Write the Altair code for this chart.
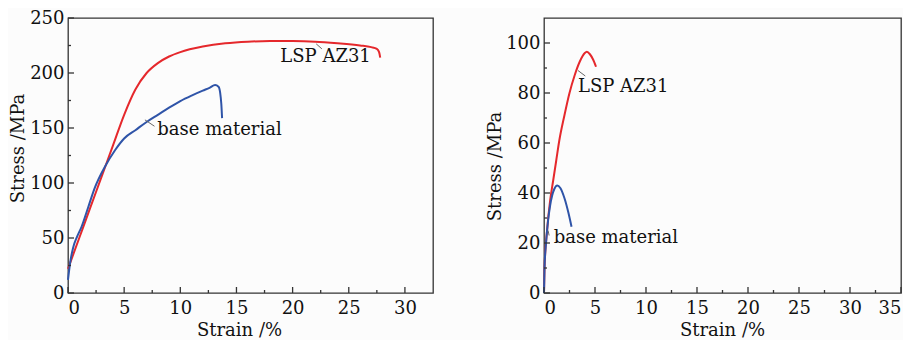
import altair as alt
import pandas as pd

FONT = "DejaVu Serif"
RED = "#e5282c"
BLUE = "#2f54a8"

# ---- left panel data ----
l_red_x = [0, 1, 2, 3, 4, 5, 6, 7, 8, 9, 10, 12, 14, 16, 18, 20, 22, 24, 26, 27, 27.5, 27.7, 27.8]
l_red_y = [22, 50, 78, 106, 134, 162, 185, 200, 209, 215, 219, 224, 227, 228.5, 229, 229, 228.5, 227, 225, 223.5, 222, 219, 214]
l_blue_x = [0, 0.2, 0.45, 0.8, 1.2, 1.8, 2.4, 3.3, 4.2, 5.0, 6.0, 7.0, 8.0, 9.0, 10.0, 11.0, 12.0, 12.6, 13.1, 13.4, 13.55, 13.65, 13.72]
l_blue_y = [12, 28, 41, 51, 60, 78, 96, 115, 130, 140.5, 148, 155.5, 162, 168.5, 174.5, 179.5, 184, 186.5, 189, 187.5, 182, 172, 159]

# ---- right panel data ----
r_red_x = [0, 0.05, 0.3, 0.6, 0.9, 1.2, 1.5, 2.0, 2.5, 3.0, 3.5, 4.0, 4.2, 4.5, 4.8, 5.1]
r_red_y = [0, 10, 25, 37, 45, 53, 61, 71, 80, 87, 92.5, 96, 96.5, 95.5, 93.5, 90.5]
r_blue_x = [0, 0.05, 0.2, 0.4, 0.6, 0.8, 1.0, 1.3, 1.6, 2.0, 2.4, 2.7]
r_blue_y = [0, 10, 20, 29, 35, 39, 41.5, 43, 42, 38, 32, 26.5]

# annotations
l_labels = ["LSP AZ31", "base material"]
l_lab_x = [18.9, 7.95]
l_lab_y = [214.5, 148.4]
l_lead_x = [22.1, 6.85]
l_lead_y = [226.5, 157.4]
l_lead_x2 = [22.6, 7.7]
l_lead_y2 = [222.0, 151.6]

r_labels = ["LSP AZ31", "base material"]
r_lab_x = [3.33, 0.95]
r_lab_y = [82.5, 22.1]
r_lead_x = [3.33, 0.4]
r_lead_y = [89.0, 25.0]
r_lead_x2 = [4.05, 0.5]
r_lead_y2 = [86.8, 23.0]

# ticks
l_xmaj = [0, 5, 10, 15, 20, 25, 30]
l_xmin = [2.5, 7.5, 12.5, 17.5, 22.5, 27.5]
l_ymaj = [0, 50, 100, 150, 200, 250]
l_ymin = [25, 75, 125, 175, 225]
r_xmaj = [0, 5, 10, 15, 20, 25, 30, 35]
r_xmin = [2.5, 7.5, 12.5, 17.5, 22.5, 27.5, 32.5]
r_ymaj = [0, 20, 40, 60, 80, 100]
r_ymin = [10, 30, 50, 70, 90]

FS = 18


def panel(red_x, red_y, blue_x, blue_y, labels, lab_x, lab_y, lx, ly, lx2, ly2,
          xmaj, xmin, ymaj, ymin, xdom, ydom, w, h, titleX, titleY, ytitlepad):
    xs = alt.Scale(domain=xdom, nice=False, zero=False)
    ys = alt.Scale(domain=ydom, nice=False, zero=False)
    df = pd.concat([
        pd.DataFrame({"x": red_x, "y": red_y, "s": "red", "o": range(len(red_x))}),
        pd.DataFrame({"x": blue_x, "y": blue_y, "s": "blue", "o": range(len(blue_x))}),
    ])
    xaxis = alt.Axis(values=xmaj, ticks=False, grid=False, title="Strain /%",
                     labelFont=FONT, labelFontSize=FS, labelColor="#111",
                     titleFont=FONT, titleFontSize=FS, titleFontWeight="normal", titleColor="#111",
                     labelPadding=6, titlePadding=4, domain=False, titleX=titleX)
    yaxis = alt.Axis(values=ymaj, ticks=False, grid=False, title="Stress /MPa",
                     labelFont=FONT, labelFontSize=FS, labelColor="#111",
                     titleFont=FONT, titleFontSize=FS, titleFontWeight="normal", titleColor="#111",
                     labelPadding=4, titlePadding=ytitlepad, domain=False, titleY=titleY)
    lines = alt.Chart(df).mark_line(strokeWidth=2, interpolate="monotone").encode(
        x=alt.X("x:Q", scale=xs, axis=xaxis),
        y=alt.Y("y:Q", scale=ys, axis=yaxis),
        color=alt.Color("s:N", scale=alt.Scale(domain=["red", "blue"], range=[RED, BLUE]), legend=None),
        detail="s:N",
        order="o:Q",
    )
    ann = pd.DataFrame({"t": labels, "x": lab_x, "y": lab_y, "lx": lx, "ly": ly, "lx2": lx2, "ly2": ly2})
    text = alt.Chart(ann).mark_text(font=FONT, fontSize=FS, align="left", baseline="middle", color="#111").encode(
        x=alt.X("x:Q", scale=xs), y=alt.Y("y:Q", scale=ys), text="t:N")
    leads = alt.Chart(ann).mark_rule(color="#666", strokeWidth=1).encode(
        x=alt.X("lx:Q", scale=xs), y=alt.Y("ly:Q", scale=ys), x2="lx2:Q", y2="ly2:Q")
    txmaj = alt.Chart(pd.DataFrame({"v": xmaj})).mark_rule(color="#333", strokeWidth=1.3).encode(
        x=alt.X("v:Q", scale=xs), y=alt.value(h), y2=alt.value(h - 6))
    txmin = alt.Chart(pd.DataFrame({"v": xmin})).mark_rule(color="#333", strokeWidth=1.3).encode(
        x=alt.X("v:Q", scale=xs), y=alt.value(h), y2=alt.value(h - 3))
    tymaj = alt.Chart(pd.DataFrame({"v": ymaj})).mark_rule(color="#333", strokeWidth=1.3).encode(
        y=alt.Y("v:Q", scale=ys), x=alt.value(0), x2=alt.value(6))
    tymin = alt.Chart(pd.DataFrame({"v": ymin})).mark_rule(color="#333", strokeWidth=1.3).encode(
        y=alt.Y("v:Q", scale=ys), x=alt.value(0), x2=alt.value(3))
    return alt.layer(lines, leads, text, txmaj, txmin, tymaj, tymin).properties(width=w, height=h)


left = panel(l_red_x, l_red_y, l_blue_x, l_blue_y, l_labels, l_lab_x, l_lab_y,
             l_lead_x, l_lead_y, l_lead_x2, l_lead_y2,
             l_xmaj, l_xmin, l_ymaj, l_ymin, [0, 32.5], [0, 250], 365, 275, 171, 130, 2)
right = panel(r_red_x, r_red_y, r_blue_x, r_blue_y, r_labels, r_lab_x, r_lab_y,
              r_lead_x, r_lead_y, r_lead_x2, r_lead_y2,
              r_xmaj, r_xmin, r_ymaj, r_ymin, [0, 35], [0, 110], 357, 275, 178, 148, 1)

chart = alt.hconcat(left, right, spacing=51).properties(
    background="#fcfcfc", padding=0
).configure_view(stroke="#333", strokeWidth=1.3)

chart.save("out.html", embed_options={"renderer": "svg", "actions": False})
